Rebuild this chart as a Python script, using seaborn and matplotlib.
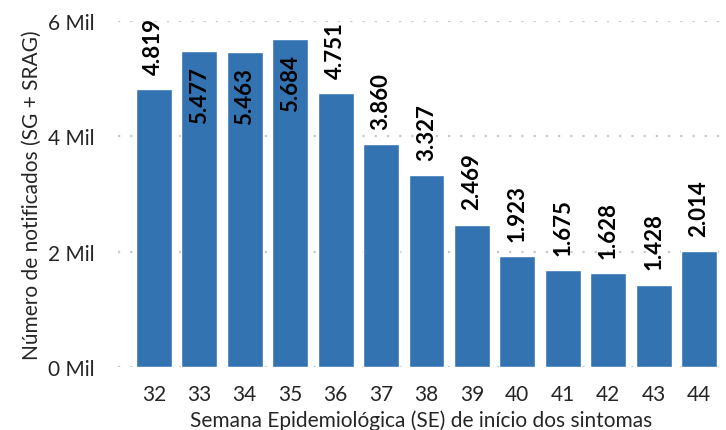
import matplotlib
matplotlib.use("Agg")
import matplotlib.pyplot as plt
import seaborn as sns
import pandas as pd

semanas = ["32", "33", "34", "35", "36", "37", "38", "39", "40", "41", "42", "43", "44"]
notificados = [4819, 5477, 5463, 5684, 4751, 3860, 3327, 2469, 1923, 1675, 1628, 1428, 2014]
yticks = [0, 2000, 4000, 6000]
ytick_labels = ["0 Mil", "2 Mil", "4 Mil", "6 Mil"]

sns.set_theme(style="white")
plt.rcParams['font.family'] = ['Lato', 'DejaVu Sans']

df = pd.DataFrame({"SE": semanas, "N": notificados})

fig = plt.figure(figsize=(7.26, 4.31), dpi=100)
ax = fig.add_axes([0.1625, 0.1462, 0.8361, 0.8028])

sns.barplot(data=df, x="SE", y="N", color="#3473B2", saturation=1, width=0.79, ax=ax, zorder=3)

ax.set_ylim(0, 6000)
ax.set_xlim(-0.79, 12.57)
ax.set_yticks(yticks)
ax.set_yticklabels(ytick_labels)
ax.yaxis.grid(True, color="#C8C8C8", linestyle=(0, (1, 4.5)), linewidth=1.6, zorder=0)
ax.xaxis.grid(False)
for s in ax.spines.values():
    s.set_visible(False)
ax.tick_params(axis="both", length=0, labelsize=15, labelcolor="#262626")
ax.tick_params(axis="y", pad=17)
ax.tick_params(axis="x", pad=12)

ax.set_xlabel("Semana Epidemiológica (SE) de início dos sintomas", fontsize=15, color="#262626", labelpad=4)
ax.set_ylabel("Número de notificados (SG + SRAG)", fontsize=15, color="#262626", labelpad=4)

for i, v in enumerate(notificados):
    txt = f"{v:,}".replace(",", ".")
    if v > 5000:
        ax.annotate(txt, (i, v), xytext=(0, -11), textcoords="offset points",
                    rotation=90, ha="center", va="top", fontsize=16,
                    fontweight="bold", color="black", zorder=5)
    else:
        ax.annotate(txt, (i, v), xytext=(0, 11), textcoords="offset points",
                    rotation=90, ha="center", va="bottom", fontsize=16,
                    fontweight="bold", color="black", zorder=5)

fig.savefig("out.png", dpi=100)
